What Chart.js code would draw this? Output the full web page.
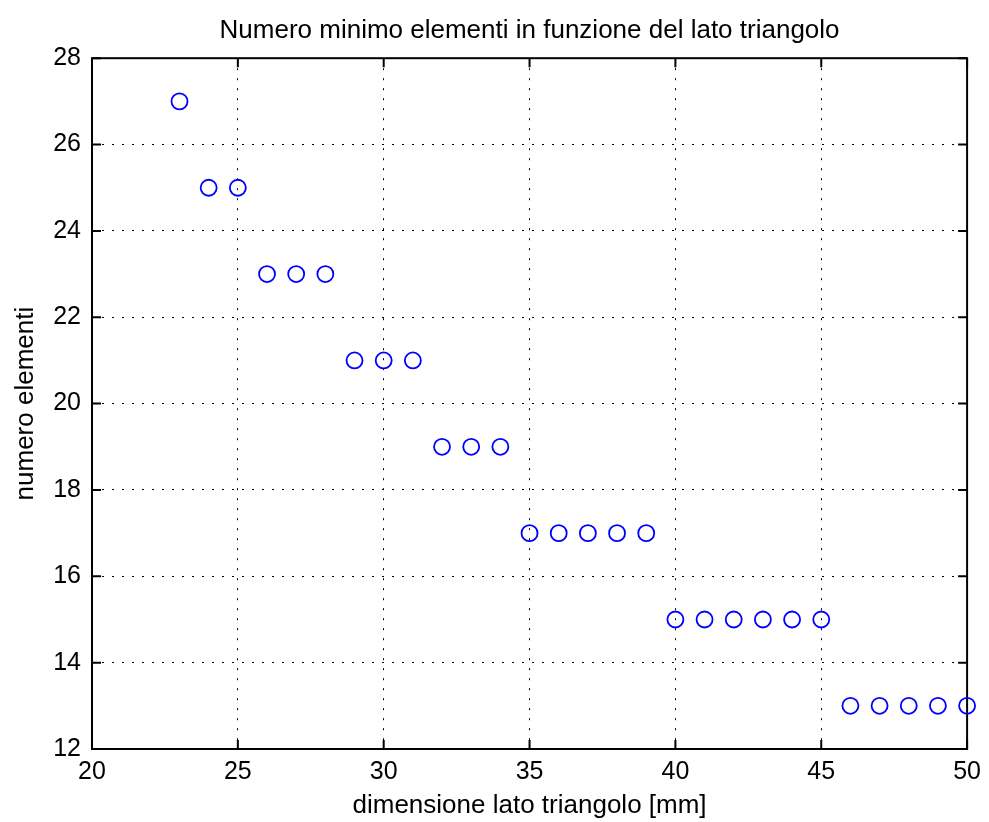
<!DOCTYPE html>
<html lang="it">
  <head>
    <meta charset="UTF-8" />
    <title>Numero minimo elementi in funzione del lato triangolo</title>
    <script src="https://cdn.jsdelivr.net/npm/chart.js"></script>
    <style>
      body { margin: 0; background: #fff; }
      canvas { display: block; }
    </style>
  </head>
  <body>
    <canvas id="scatterChart" width="989" height="822"></canvas>

    <script>
      // lato triangolo [mm] and the minimum number of elements
      const latoTriangolo = [23, 24, 25, 26, 27, 28, 29, 30, 31, 32, 33, 34, 35, 36, 37, 38, 39,
                             40, 41, 42, 43, 44, 45, 46, 47, 48, 49, 50];
      const numeroElementi = [27, 25, 25, 23, 23, 23, 21, 21, 21, 19, 19, 19, 17, 17, 17, 17, 17,
                              15, 15, 15, 15, 15, 15, 13, 13, 13, 13, 13];
      const xTicks = [20, 25, 30, 35, 40, 45, 50];
      const yTicks = [12, 14, 16, 18, 20, 22, 24, 26, 28];

      const FONT = 'Liberation Sans, Arial, sans-serif';

      // MATLAB-like box with inward tick marks on every side
      const boxPlugin = {
        id: 'matlabBox',
        beforeDatasetsDraw(chart) {
          const { ctx, chartArea: a, scales } = chart;
          const len = 9;
          ctx.save();
          ctx.strokeStyle = '#000';
          ctx.lineWidth = 2;
          ctx.setLineDash([]);
          ctx.strokeRect(a.left, a.top, a.right - a.left, a.bottom - a.top);
          ctx.beginPath();
          xTicks.forEach(v => {
            const px = scales.x.getPixelForValue(v);
            ctx.moveTo(px, a.bottom); ctx.lineTo(px, a.bottom - len);
            ctx.moveTo(px, a.top); ctx.lineTo(px, a.top + len);
          });
          yTicks.forEach(v => {
            const py = scales.y.getPixelForValue(v);
            ctx.moveTo(a.left, py); ctx.lineTo(a.left + len, py);
            ctx.moveTo(a.right, py); ctx.lineTo(a.right - len, py);
          });
          ctx.stroke();
          ctx.restore();
        }
      };

      const points = latoTriangolo.map((x, i) => ({ x: x, y: numeroElementi[i] }));

      new Chart(document.getElementById('scatterChart'), {
        type: 'scatter',
        data: {
          datasets: [{
            data: points,
            pointStyle: 'circle',
            pointRadius: 8,
            pointHoverRadius: 8,
            pointBorderWidth: 1.8,
            borderColor: '#0000ff',
            backgroundColor: 'rgba(0,0,0,0)',
            clip: false
          }]
        },
        options: {
          responsive: false,
          animation: false,
          layout: { padding: { left: 0, right: 20, top: 0, bottom: 0 } },
          plugins: {
            legend: { display: false },
            tooltip: { enabled: false },
            title: {
              display: true,
              fullSize: false,
              text: 'Numero minimo elementi in funzione del lato triangolo',
              color: '#000',
              font: { family: FONT, size: 26, weight: 'normal' },
              padding: { top: 15, bottom: 12 }
            }
          },
          scales: {
            x: {
              type: 'linear',
              min: 20,
              max: 50,
              afterBuildTicks: s => { s.ticks = xTicks.map(v => ({ value: v })); },
              afterFit: s => { s.height = 73; },
              grid: { color: '#000', lineWidth: 1, drawTicks: false },
              border: { display: false, dash: [2, 8] },
              ticks: { color: '#000', font: { family: FONT, size: 25 }, padding: 8, maxRotation: 0 },
              title: {
                display: true,
                text: 'dimensione lato triangolo [mm]',
                color: '#000',
                font: { family: FONT, size: 26 },
                padding: { top: 0, bottom: 1 }
              }
            },
            y: {
              type: 'linear',
              min: 12,
              max: 28,
              afterBuildTicks: s => { s.ticks = yTicks.map(v => ({ value: v })); },
              afterFit: s => { s.width = 92; },
              grid: { color: '#000', lineWidth: 1, drawTicks: false },
              border: { display: false, dash: [2, 8] },
              ticks: { color: '#000', font: { family: FONT, size: 25 }, padding: 11 },
              title: {
                display: true,
                text: 'numero elementi',
                color: '#000',
                font: { family: FONT, size: 26 },
                padding: { top: 10, bottom: 0 }
              }
            }
          }
        },
        plugins: [boxPlugin]
      });
    </script>
  </body>
</html>
